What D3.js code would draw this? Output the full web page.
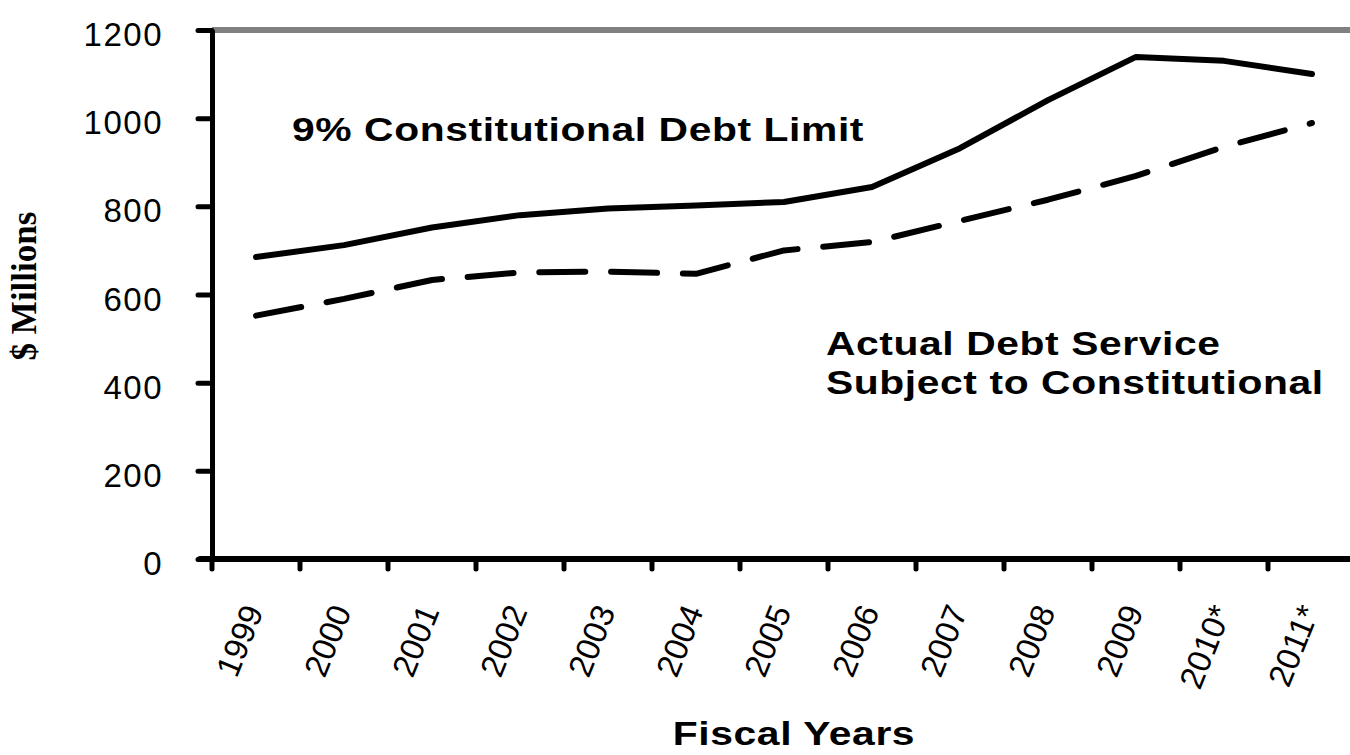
<!DOCTYPE html>
<html>
<head>
<meta charset="utf-8">
<script src="https://cdn.jsdelivr.net/npm/d3@7"></script>
<style>
  html, body { margin: 0; padding: 0; background: #fff; }
  svg { display: block; }
</style>
</head>
<body>
<svg id="chart" width="1350" height="755"></svg>
<script>
// Fiscal years shown on the horizontal axis
const categories = ["1999", "2000", "2001", "2002", "2003", "2004", "2005",
                    "2006", "2007", "2008", "2009", "2010*", "2011*"];
// 9% constitutional debt limit ($ millions)
const debtLimit = [685, 712, 752, 780, 795, 802, 810, 844, 932, 1041, 1139, 1130, 1100];
// Actual debt service subject to the constitutional limit ($ millions)
const debtService = [552, 590, 633, 650, 652, 647, 700, 719, 767, 815, 869, 935, 989];
// Value axis tick labels
const yTicks = [0, 200, 400, 600, 800, 1000, 1200];

const svg = d3.select("#chart");
const sans = "'Liberation Sans', Arial, sans-serif";

const x = d3.scaleBand().domain(categories).range([212, 1356]).padding(0);
const y = d3.scaleLinear().domain([0, 1200]).range([559, 30]);
const cx = c => x(c) + x.bandwidth() / 2;

// Grey rule at the top of the plot area
svg.append("line")
  .attr("x1", x.range()[0]).attr("x2", 1350)
  .attr("y1", y(1200)).attr("y2", y(1200))
  .attr("stroke", "#808080").attr("stroke-width", 6);

// Series lines
const line = d3.line()
  .x((d, i) => cx(categories[i]))
  .y(d => y(d));

svg.append("path")
  .datum(debtLimit)
  .attr("d", line)
  .attr("fill", "none")
  .attr("stroke", "#000")
  .attr("stroke-width", 6)
  .attr("stroke-linecap", "round")
  .attr("stroke-linejoin", "round");

svg.append("path")
  .datum(debtService)
  .attr("d", line)
  .attr("fill", "none")
  .attr("stroke", "#000")
  .attr("stroke-width", 6)
  .attr("stroke-dasharray", "46,25.8")
  .attr("stroke-linecap", "round")
  .attr("stroke-linejoin", "round");

// Y axis
const yAxis = svg.append("g")
  .attr("transform", `translate(${x.range()[0]},0)`)
  .call(d3.axisLeft(y).tickValues(yTicks).tickFormat(d3.format("d"))
    .tickSize(14).tickSizeOuter(0).tickPadding(35));
yAxis.select(".domain").attr("stroke", "#000").attr("stroke-width", 5);
yAxis.selectAll(".tick line").attr("stroke", "#000").attr("stroke-width", 5).attr("stroke-linecap", "round");
yAxis.selectAll(".tick text")
  .attr("dy", "0.47em")
  .style("font-family", sans)
  .style("font-size", "33px")
  .style("letter-spacing", "1.5px")
  .attr("fill", "#000");

// X axis: baseline, boundary ticks and rotated year labels
const xAxis = svg.append("g")
  .attr("transform", `translate(0,${y(0)})`)
  .call(d3.axisBottom(x).tickSize(0).tickSizeOuter(0));
xAxis.select(".domain").remove();
xAxis.append("line")
  .attr("x1", x.range()[0] - 12).attr("x2", 1350)
  .attr("y1", 0).attr("y2", 0)
  .attr("stroke", "#000").attr("stroke-width", 6).attr("stroke-linecap", "round");
const bounds = categories.map(c => x(c)).concat([x.range()[1]]);
xAxis.selectAll(".bound")
  .data(bounds)
  .join("line")
  .attr("class", "bound")
  .attr("x1", d => d).attr("x2", d => d)
  .attr("y1", 0).attr("y2", 10)
  .attr("stroke", "#000").attr("stroke-width", 5).attr("stroke-linecap", "round");
xAxis.selectAll(".tick text")
  .attr("x", 0).attr("y", 0).attr("dy", 0)
  .attr("text-anchor", "end")
  .attr("transform", "translate(8,52) rotate(-68)")
  .style("font-family", sans)
  .style("font-size", "33px")
  .attr("fill", "#000");

// Bold sans labels are drawn slightly widened
const boldText = (tx, ty, s, anchor) => svg.append("text")
  .attr("transform", `translate(${tx},${ty}) scale(1.2,1)`)
  .attr("text-anchor", anchor || "start")
  .style("font-family", sans)
  .style("font-weight", "bold")
  .style("font-size", "34px")
  .style("letter-spacing", "0.5px")
  .text(s);

// Axis titles
boldText(794, 745, "Fiscal Years", "middle");

svg.append("text")
  .attr("transform", "translate(36,286) rotate(-90)")
  .attr("text-anchor", "middle")
  .style("font-family", "'Liberation Serif', 'Times New Roman', serif")
  .style("font-weight", "bold")
  .style("font-size", "35px")
  .text("$ Millions");

// Series annotations
boldText(292, 141, "9% Constitutional Debt Limit");
boldText(826, 355, "Actual Debt Service");
boldText(826, 394, "Subject to Constitutional");
</script>
</body>
</html>
